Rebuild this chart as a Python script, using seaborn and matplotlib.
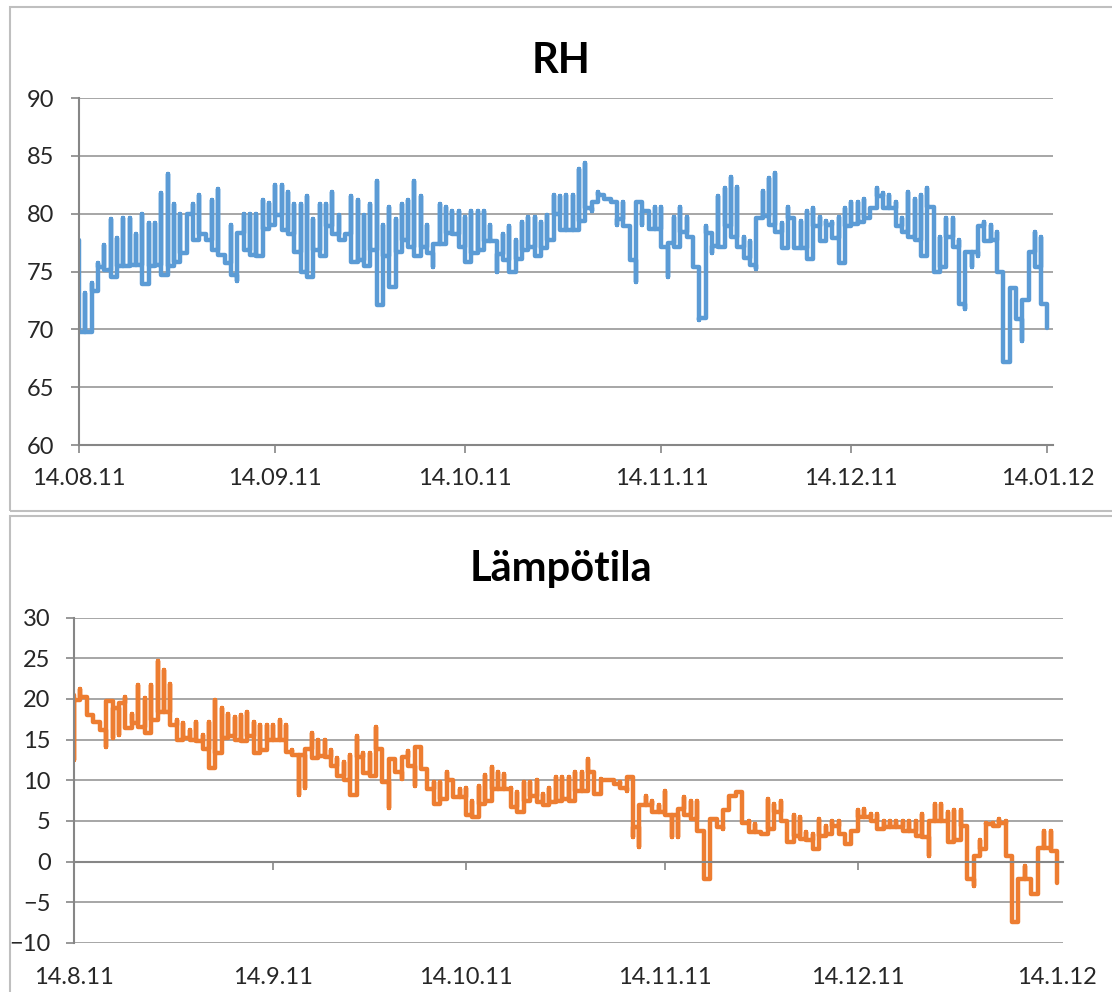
import pandas as pd
import matplotlib
matplotlib.use("Agg")
import matplotlib.pyplot as plt
from matplotlib.patches import Rectangle
import seaborn as sns

# ======================
# Data: per day the line goes from the previous level to a peak and then to the day's level
# ======================

START = pd.Timestamp("2011-08-14")

rh_start = 77.7
rh_peak = [
    77.7, 73.1, 74.0, 75.7, 77.3, 79.5, 77.9, 79.6, 79.6, 78.2,
    80.0, 79.2, 79.2, 81.8, 83.4, 80.8, 80.0, 80.0, 80.8, 81.6,
    78.0, 81.2, 82.1, 75.7, 79.0, 74.2, 80.0, 80.0, 80.0, 81.2,
    80.9, 82.5, 82.5, 81.9, 80.8, 80.8, 81.5, 79.5, 80.8, 80.8,
    81.9, 79.9, 78.2, 81.5, 81.2, 79.9, 80.8, 82.8, 79.0, 80.6,
    79.5, 80.8, 81.2, 82.8, 81.5, 79.0, 75.4, 80.8, 80.6, 80.2,
    80.2, 79.7, 80.2, 80.2, 80.2, 79.0, 75.0, 78.2, 78.9, 77.7,
    79.3, 79.7, 79.7, 79.3, 79.9, 81.6, 81.5, 81.6, 81.6, 83.9,
    84.4, 80.2, 81.9, 81.3, 81.0, 79.0, 81.0, 76.0, 74.1, 79.0,
    80.2, 80.6, 80.6, 74.5, 79.7, 80.6, 79.7, 75.4, 70.8, 78.9,
    76.6, 81.5, 82.2, 83.2, 82.3, 78.0, 77.6, 75.2, 82.0, 83.1,
    83.5, 79.2, 80.6, 79.3, 79.4, 80.2, 80.5, 79.7, 79.4, 79.3,
    79.7, 80.5, 81.0, 81.0, 81.3, 80.5, 82.2, 81.8, 81.6, 81.0,
    79.6, 81.9, 81.3, 81.6, 82.2, 79.9, 78.0, 79.6, 79.6, 77.7,
    71.8, 75.4, 76.3, 79.3, 79.0, 78.4, 74.5, 73.6, 73.6, 69.0,
    76.7, 78.4, 78.0, 72.2,
]
rh_level = [
    69.8, 69.8, 73.3, 75.4, 75.1, 74.5, 75.5, 75.5, 75.6, 75.6,
    73.9, 75.5, 75.6, 74.7, 75.5, 75.8, 76.6, 80.0, 77.7, 78.2,
    77.7, 76.9, 76.4, 75.7, 74.7, 78.3, 76.9, 76.4, 76.3, 78.7,
    79.0, 79.9, 78.6, 78.2, 76.7, 75.0, 74.5, 76.9, 76.3, 78.9,
    78.2, 77.7, 78.2, 75.8, 76.0, 75.5, 76.9, 72.1, 76.3, 73.7,
    76.7, 77.7, 77.1, 76.3, 77.1, 76.6, 77.4, 77.4, 78.3, 78.2,
    77.1, 75.8, 76.6, 76.9, 77.6, 77.6, 76.5, 76.0, 75.0, 76.1,
    76.9, 77.1, 76.3, 77.0, 77.7, 80.0, 78.6, 78.6, 78.6, 79.4,
    80.5, 81.0, 81.6, 81.3, 81.0, 79.5, 78.9, 76.0, 81.0, 80.2,
    78.7, 78.7, 77.1, 77.5, 77.1, 78.4, 78.0, 75.4, 71.0, 78.3,
    77.2, 77.1, 78.9, 78.0, 77.1, 76.2, 75.6, 79.6, 79.8, 79.0,
    78.4, 77.0, 79.6, 77.0, 77.0, 76.1, 78.9, 77.6, 79.0, 77.9,
    75.7, 78.9, 79.1, 79.3, 79.6, 80.5, 81.5, 80.5, 80.5, 78.9,
    78.4, 78.0, 77.7, 76.3, 80.6, 75.0, 75.4, 78.0, 77.1, 72.2,
    76.7, 76.7, 78.9, 77.6, 77.7, 75.0, 67.2, 73.6, 70.9, 72.5,
    76.7, 75.4, 72.2, 70.1,
]

t_start = 20.5
t_peak = [
    12.5, 21.2, 20.3, 17.8, 17.2, 14.1, 15.2, 15.6, 20.3, 18.2,
    21.7, 20.1, 21.7, 24.7, 23.6, 21.9, 17.4, 17.0, 16.2, 17.2,
    15.6, 17.2, 19.9, 18.9, 18.2, 17.8, 18.0, 18.4, 17.2, 16.8,
    16.8, 16.8, 17.4, 16.8, 13.7, 8.2, 9.0, 15.8, 15.0, 15.0,
    13.7, 12.7, 12.3, 13.1, 15.4, 13.3, 13.3, 16.6, 13.7, 6.6,
    11.0, 10.2, 13.6, 9.3, 14.1, 11.0, 9.8, 9.8, 11.0, 9.5,
    8.9, 9.1, 7.5, 9.3, 10.6, 11.6, 11.0, 10.8, 9.1, 8.5,
    9.8, 9.8, 10.0, 8.3, 9.1, 10.4, 10.4, 10.4, 11.0, 11.0,
    12.6, 11.0, 10.2, 10.0, 9.8, 9.8, 8.7, 3.0, 1.8, 8.1,
    7.5, 6.9, 8.7, 3.0, 3.0, 7.9, 7.5, 7.5, -2.2, -2.2,
    5.0, 4.0, 6.7, 8.5, 8.5, 5.0, 4.6, 3.4, 7.7, 7.1,
    7.5, 5.0, 5.7, 5.5, 3.6, 3.4, 5.2, 4.4, 5.0, 5.0,
    3.4, 3.2, 6.3, 6.5, 5.9, 5.9, 5.0, 5.0, 5.0, 5.0,
    5.0, 5.0, 5.9, 0.7, 7.1, 7.1, 6.1, 6.3, 6.3, 4.2,
    -3.0, 2.6, 4.8, 4.8, 5.2, 5.0, 0.5, -7.2, -0.5, -2.4,
    -3.8, 3.8, 3.8, 1.3,
]
t_level = [
    19.9, 20.2, 18.0, 17.2, 16.2, 19.7, 18.9, 19.5, 16.4, 17.0,
    16.6, 15.8, 17.4, 18.4, 18.4, 16.8, 15.0, 15.2, 15.0, 14.8,
    13.9, 11.5, 13.3, 15.2, 15.4, 15.0, 14.8, 15.4, 13.3, 13.7,
    15.0, 15.0, 15.0, 13.5, 13.1, 13.1, 13.9, 12.7, 13.0, 12.9,
    11.7, 10.5, 10.0, 8.2, 12.9, 10.9, 10.5, 13.9, 9.8, 12.6,
    11.0, 12.8, 11.8, 14.1, 11.4, 8.9, 7.1, 7.7, 10.0, 7.9,
    7.9, 5.7, 5.5, 7.1, 7.5, 8.9, 8.9, 8.9, 6.7, 6.1,
    7.5, 8.1, 7.3, 6.9, 7.3, 7.5, 7.7, 7.5, 8.7, 8.7,
    11.0, 8.3, 10.0, 10.0, 9.5, 9.1, 10.4, 4.2, 6.9, 6.9,
    6.1, 6.1, 5.7, 5.7, 6.5, 5.7, 5.2, 3.8, -2.2, 5.2,
    4.2, 6.3, 8.1, 8.5, 4.8, 3.6, 3.6, 3.4, 4.0, 6.1,
    5.0, 2.4, 3.2, 2.8, 2.6, 1.5, 3.2, 3.4, 4.4, 3.4,
    2.2, 3.8, 5.5, 5.5, 5.0, 4.0, 4.2, 4.2, 4.2, 3.8,
    3.8, 3.2, 3.0, 5.0, 5.0, 5.0, 2.4, 2.6, 4.4, -2.2,
    0.7, 1.5, 4.6, 4.4, 4.8, 0.7, -7.4, -2.2, -2.2, -4.0,
    1.7, 1.7, 1.3, -2.6,
]

month_ticks = [START + pd.DateOffset(months=i) for i in range(6)]
rh_tick_labels = ["14.08.11", "14.09.11", "14.10.11", "14.11.11", "14.12.11", "14.01.12"]
t_tick_labels = ["14.8.11", "14.9.11", "14.10.11", "14.11.11", "14.12.11", "14.1.12"]


def build_path(start, peaks, levels):
    # Excel date axis: all readings of one day sit on the same x
    rows = []
    prev = start
    for d, (p, lv) in enumerate(zip(peaks, levels)):
        t = START + pd.Timedelta(days=d)
        rows += [(t, prev), (t, p), (t, lv)]
        prev = lv
    return pd.DataFrame(rows, columns=["aika", "arvo"])


rh_df = build_path(rh_start, rh_peak, rh_level)
t_df = build_path(t_start, t_peak, t_level)

# ======================
# Style
# ======================

sns.set_theme(style="white")
plt.rcParams["font.family"] = ["Lato", "DejaVu Sans"]

W, H = 1112, 992
GRID = "#A6A6A6"
AXIS = "#868686"
BORDER = "#BFBFBF"

fig = plt.figure(figsize=(W / 100, H / 100), dpi=100)

# chart-area borders
fig.patches.append(Rectangle((10 / W, 1 - 511 / H), 1.2, 504 / H, transform=fig.transFigure,
                             fill=False, edgecolor=BORDER, linewidth=1.5))
fig.patches.append(Rectangle((10 / W, -0.1), 1.2, 0.1 + 1 - 516 / H, transform=fig.transFigure,
                             fill=False, edgecolor=BORDER, linewidth=1.5))


def style_axes(ax, ymin, ymax, tick_labels, right_days, ypad):
    ax.set_ylim(ymin, ymax)
    ax.set_yticks(range(ymin, ymax + 1, 5))
    ax.set_xlim(START, START + pd.Timedelta(days=right_days))
    ax.set_xticks(month_ticks)
    ax.set_xticklabels(tick_labels)
    ax.set_xlabel("")
    ax.set_ylabel("")
    ax.grid(axis="y", color=GRID, linewidth=1.4)
    ax.grid(axis="x", visible=False)
    for s in ["top", "right"]:
        ax.spines[s].set_visible(False)
    for s in ["left", "bottom"]:
        ax.spines[s].set_color(AXIS)
        ax.spines[s].set_linewidth(1.5)
    ax.tick_params(axis="y", direction="out", length=5.8, width=1.2, color=AXIS,
                   labelsize=17, pad=ypad, left=True)
    ax.tick_params(axis="x", direction="out", length=5.8, width=1.2, color=AXIS,
                   labelsize=17, bottom=True)
    ax.set_facecolor("none")


# top: RH
ax1 = fig.add_axes([79 / W, 1 - 445 / H, (1053 - 79) / W, 347 / H])
sns.lineplot(data=rh_df, x="aika", y="arvo", ax=ax1, estimator=None, sort=False,
             color="#5B9BD5", linewidth=3.2)
for ln in ax1.lines:
    ln.set_solid_joinstyle("round")
    ln.set_solid_capstyle("round")
style_axes(ax1, 60, 90, rh_tick_labels, (1053 - 79) / 6.33, 12)
ax1.tick_params(axis="x", pad=11)

# bottom: Lämpötila
ax2 = fig.add_axes([74 / W, 1 - 942.8 / H, (1063 - 74) / W, 325.1 / H])
sns.lineplot(data=t_df, x="aika", y="arvo", ax=ax2, estimator=None, sort=False,
             color="#ED7D31", linewidth=3.2)
for ln in ax2.lines:
    ln.set_solid_joinstyle("round")
    ln.set_solid_capstyle("round")
style_axes(ax2, -10, 30, t_tick_labels, (1063 - 74) / 6.425, 11)
ax2.spines["bottom"].set_position(("data", 0))
ax2.tick_params(axis="x", pad=70)

fig.text(561 / W, 1 - 72.7 / H, "RH", ha="center", va="baseline",
         fontsize=30, fontweight="bold", color="black")
fig.text(561 / W, 1 - 581 / H, "Lämpötila", ha="center", va="baseline",
         fontsize=30, fontweight="bold", color="black")

fig.savefig("out.png", dpi=100, facecolor="white")
